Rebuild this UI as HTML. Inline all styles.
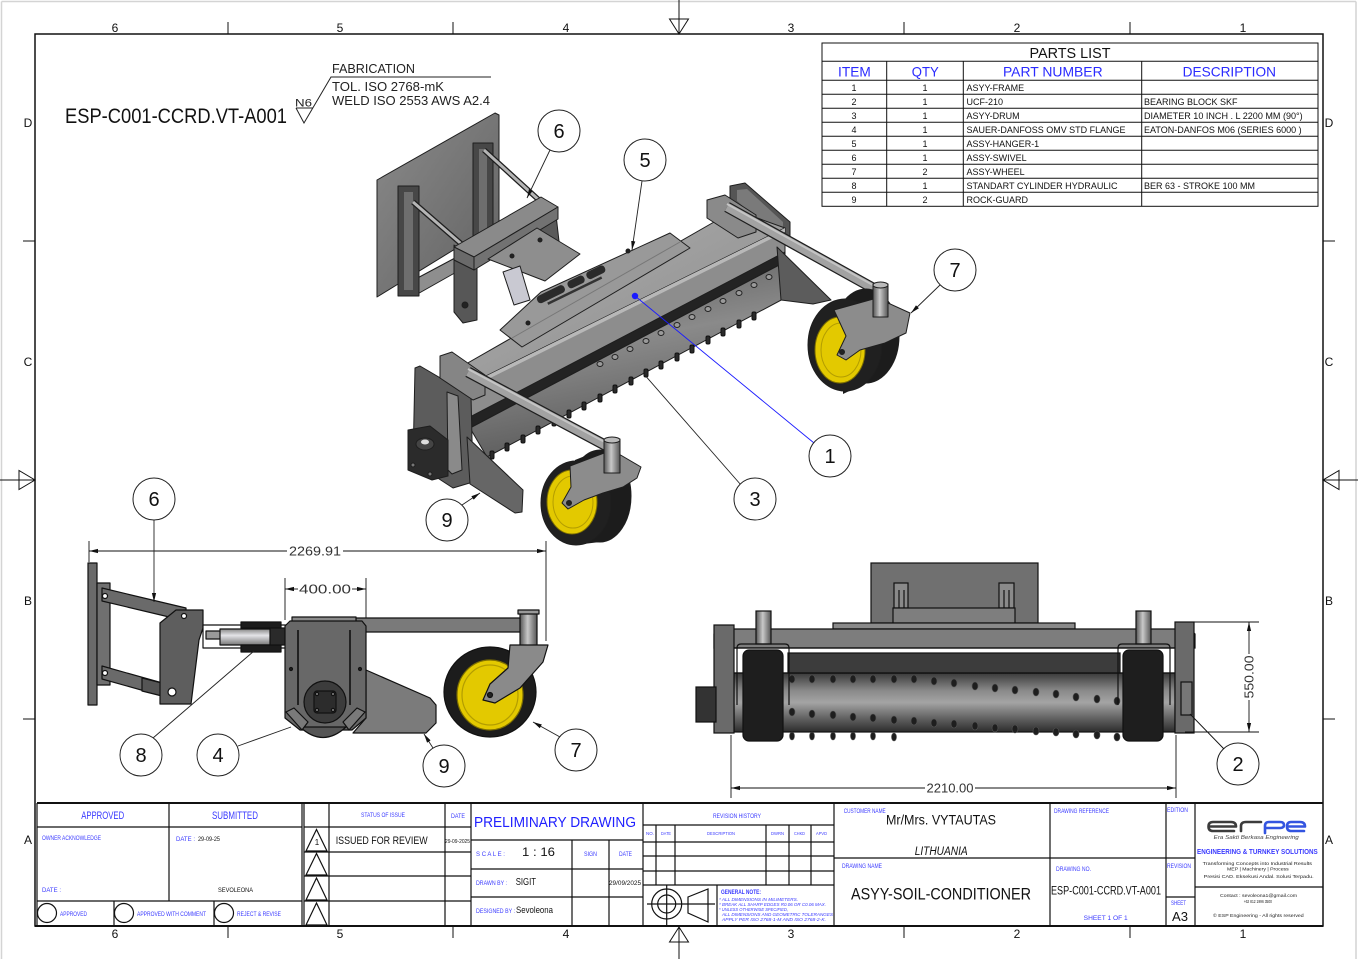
<!DOCTYPE html>
<html><head><meta charset="utf-8"><style>
html,body{margin:0;padding:0;background:#fff;}
svg{display:block;}
text{font-family:"Liberation Sans",Arial,sans-serif;}
</style></head><body>
<svg width="1359" height="959" viewBox="0 0 1359 959" xmlns="http://www.w3.org/2000/svg">
<defs>
<marker id="ar" markerWidth="10" markerHeight="6" refX="9" refY="3" orient="auto-start-reverse" markerUnits="userSpaceOnUse"><path d="M0,0.9 L9,3 L0,5.1z" fill="#111"/></marker>
<linearGradient id="drumF" x1="0" y1="0" x2="0" y2="1"><stop offset="0" stop-color="#3a3a3a"/><stop offset="0.3" stop-color="#8a8a8a"/><stop offset="0.5" stop-color="#a4a4a4"/><stop offset="0.75" stop-color="#666"/><stop offset="1" stop-color="#2c2c2c"/></linearGradient>
<linearGradient id="cyl" x1="0" y1="0" x2="0" y2="1"><stop offset="0" stop-color="#888"/><stop offset="0.4" stop-color="#e4e4e8"/><stop offset="1" stop-color="#777"/></linearGradient>
<linearGradient id="stemG" x1="0" y1="0" x2="1" y2="0"><stop offset="0" stop-color="#555"/><stop offset="0.45" stop-color="#c8c8c8"/><stop offset="1" stop-color="#555"/></linearGradient>
<linearGradient id="topG" x1="0" y1="0" x2="1" y2="1"><stop offset="0" stop-color="#b0b0b0"/><stop offset="1" stop-color="#8a8a8a"/></linearGradient>
<linearGradient id="drumM" x1="0" y1="0" x2="0.3" y2="1"><stop offset="0" stop-color="#555"/><stop offset="0.5" stop-color="#8a8a8a"/><stop offset="1" stop-color="#5a5a5a"/></linearGradient>
<linearGradient id="plateG" x1="0" y1="0" x2="1" y2="1"><stop offset="0" stop-color="#8a8a8a"/><stop offset="1" stop-color="#626262"/></linearGradient>
</defs>

<!-- outer sheet border -->
<line x1="1.5" y1="1.5" x2="1356" y2="1.5" stroke="#d4d4d4" stroke-width="1.5"/>
<line x1="1.5" y1="1.5" x2="1.5" y2="959" stroke="#d4d4d4" stroke-width="1.5"/>
<line x1="1356" y1="1.5" x2="1356" y2="959" stroke="#d4d4d4" stroke-width="1.5"/>

<!-- main frame -->
<rect x="35" y="34" width="1288" height="892" fill="none" stroke="#111" stroke-width="1.5"/>
<g stroke="#111" stroke-width="1">
<line x1="228" y1="22" x2="228" y2="34"/><line x1="453" y1="22" x2="453" y2="34"/><line x1="904" y1="22" x2="904" y2="34"/><line x1="1130" y1="22" x2="1130" y2="34"/>
<line x1="228" y1="926" x2="228" y2="938"/><line x1="453" y1="926" x2="453" y2="938"/><line x1="904" y1="926" x2="904" y2="938"/><line x1="1130" y1="926" x2="1130" y2="938"/>
<line x1="23" y1="241" x2="35" y2="241"/><line x1="23" y1="719" x2="35" y2="719"/>
<line x1="1323" y1="241" x2="1335" y2="241"/><line x1="1323" y1="719" x2="1335" y2="719"/>
<line x1="679" y1="0" x2="679" y2="34"/><polygon points="669.5,19 688.5,19 679,34" fill="none"/>
<line x1="679" y1="926" x2="679" y2="959"/><polygon points="669.5,942 688.5,942 679,927" fill="none"/>
<line x1="0" y1="480" x2="35" y2="480"/><polygon points="19,470.5 19,489.5 35,480" fill="none"/>
<line x1="1323" y1="480" x2="1358" y2="480"/><polygon points="1339,470.5 1339,489.5 1323,480" fill="none"/>
</g>
<g font-size="12" fill="#111" text-anchor="middle">
<text x="115" y="32">6</text><text x="340" y="32">5</text><text x="566" y="32">4</text><text x="791" y="32">3</text><text x="1017" y="32">2</text><text x="1243" y="32">1</text>
<text x="115" y="938">6</text><text x="340" y="938">5</text><text x="566" y="938">4</text><text x="791" y="938">3</text><text x="1017" y="938">2</text><text x="1243" y="938">1</text>
<text x="28" y="127">D</text><text x="28" y="366">C</text><text x="28" y="605">B</text><text x="28" y="844">A</text>
<text x="1329" y="127">D</text><text x="1329" y="366">C</text><text x="1329" y="605">B</text><text x="1329" y="844">A</text>
</g>

<!-- header notes -->
<text x="65" y="123" font-size="21" fill="#111" textLength="222" lengthAdjust="spacingAndGlyphs">ESP-C001-CCRD.VT-A001</text>
<text x="295" y="106.5" font-size="11" fill="#222" textLength="17" lengthAdjust="spacingAndGlyphs">N6</text>
<polyline points="296,108 313,108" stroke="#222" fill="none"/>
<polyline points="296,108 304,123 331,77 491,77" stroke="#222" fill="none"/>
<text x="332" y="73" font-size="12.5" fill="#222" textLength="83" lengthAdjust="spacingAndGlyphs">FABRICATION</text>
<text x="332" y="91" font-size="12.5" fill="#222" textLength="112" lengthAdjust="spacingAndGlyphs">TOL. ISO 2768-mK</text>
<text x="332" y="105" font-size="12.5" fill="#222" textLength="158" lengthAdjust="spacingAndGlyphs">WELD ISO 2553 AWS A2.4</text>

<!-- PARTS LIST -->
<g stroke="#111" stroke-width="1" fill="none">
<rect x="822" y="43" width="496" height="163.3"/>
<line x1="822" y1="61.3" x2="1318" y2="61.3"/>
<line x1="822" y1="80.3" x2="1318" y2="80.3"/>
<line x1="822" y1="94.3" x2="1318" y2="94.3"/><line x1="822" y1="108.3" x2="1318" y2="108.3"/><line x1="822" y1="122.3" x2="1318" y2="122.3"/><line x1="822" y1="136.3" x2="1318" y2="136.3"/><line x1="822" y1="150.3" x2="1318" y2="150.3"/><line x1="822" y1="164.3" x2="1318" y2="164.3"/><line x1="822" y1="178.3" x2="1318" y2="178.3"/><line x1="822" y1="192.3" x2="1318" y2="192.3"/>
<line x1="886.7" y1="61.3" x2="886.7" y2="206.3"/><line x1="963.3" y1="61.3" x2="963.3" y2="206.3"/><line x1="1141.7" y1="61.3" x2="1141.7" y2="206.3"/>
</g>
<text x="1070" y="58" font-size="14.5" fill="#111" text-anchor="middle" textLength="81" lengthAdjust="spacingAndGlyphs">PARTS LIST</text>
<g font-size="14" fill="#2a2aff" text-anchor="middle">
<text x="854.4" y="76.5" textLength="32.7" lengthAdjust="spacingAndGlyphs">ITEM</text>
<text x="925.3" y="76.5" textLength="27" lengthAdjust="spacingAndGlyphs">QTY</text>
<text x="1052.8" y="76.5" textLength="99.7" lengthAdjust="spacingAndGlyphs">PART NUMBER</text>
<text x="1229.3" y="76.5" textLength="93.3" lengthAdjust="spacingAndGlyphs">DESCRIPTION</text>
</g>
<g font-size="9" fill="#111">
<g text-anchor="middle">
<text x="854" y="91">1</text><text x="925" y="91">1</text>
<text x="854" y="105">2</text><text x="925" y="105">1</text>
<text x="854" y="119">3</text><text x="925" y="119">1</text>
<text x="854" y="133">4</text><text x="925" y="133">1</text>
<text x="854" y="147">5</text><text x="925" y="147">1</text>
<text x="854" y="161">6</text><text x="925" y="161">1</text>
<text x="854" y="175">7</text><text x="925" y="175">2</text>
<text x="854" y="189">8</text><text x="925" y="189">1</text>
<text x="854" y="203">9</text><text x="925" y="203">2</text>
</g>
<text x="966.5" y="91">ASYY-FRAME</text>
<text x="966.5" y="105">UCF-210</text>
<text x="966.5" y="119">ASYY-DRUM</text>
<text x="966.5" y="133" textLength="159" lengthAdjust="spacingAndGlyphs">SAUER-DANFOSS OMV STD FLANGE</text>
<text x="966.5" y="147">ASSY-HANGER-1</text>
<text x="966.5" y="161">ASSY-SWIVEL</text>
<text x="966.5" y="175">ASSY-WHEEL</text>
<text x="966.5" y="189" textLength="151" lengthAdjust="spacingAndGlyphs">STANDART CYLINDER HYDRAULIC</text>
<text x="966.5" y="203">ROCK-GUARD</text>
<text x="1144" y="105">BEARING BLOCK SKF</text>
<text x="1144" y="119" textLength="158.7" lengthAdjust="spacingAndGlyphs">DIAMETER 10 INCH . L 2200 MM (90°)</text>
<text x="1144" y="133" textLength="157.7" lengthAdjust="spacingAndGlyphs">EATON-DANFOS M06 (SERIES 6000 )</text>
<text x="1144" y="189" textLength="111" lengthAdjust="spacingAndGlyphs">BER 63 - STROKE 100 MM</text>
</g>

<!-- ================= MAIN ISOMETRIC VIEW ================= -->
<g stroke="#1e1e1e" stroke-width="1" stroke-linejoin="round">
<!-- hitch plate -->
<polygon points="377,180 495,113 499,115 499,222 377,297" fill="url(#plateG)"/>
<!-- lower frame bar -->
<polygon points="410,282 455,258 460,270 414,296" fill="#8e8e8e"/>
<!-- uprights -->
<rect x="398" y="186" width="21" height="110" fill="#474747"/>
<rect x="404" y="192" width="9" height="98" fill="#6e6e6e" stroke="none"/>
<rect x="473" y="143" width="20" height="100" fill="#474747"/>
<rect x="479" y="149" width="8" height="88" fill="#6e6e6e" stroke="none"/>
<!-- rods -->
<line x1="413" y1="202" x2="466" y2="248" stroke="#1e1e1e" stroke-width="5.5"/>
<line x1="413" y1="202" x2="466" y2="248" stroke="#b5b5b5" stroke-width="3"/>
<line x1="484" y1="150" x2="540" y2="201" stroke="#1e1e1e" stroke-width="5.5"/>
<line x1="484" y1="150" x2="540" y2="201" stroke="#b5b5b5" stroke-width="3"/>
<!-- swivel frame -->
<polygon points="454,245 477,258 477,320 463,323 454,312" fill="#575757"/>
<circle cx="465" cy="305" r="3" fill="#222"/>
<polygon points="530,215 555,206 560,250 535,262" fill="#5a5a5a"/>
<polygon points="454,247 541,197 558,207 474,257" fill="#8a8a8a"/>
<polygon points="454,247 474,257 474,270 454,260" fill="#6a6a6a"/>
<polygon points="474,257 558,207 558,219 474,270" fill="#727272"/>
<!-- hanger plate -->
<polygon points="488,259 537,228 580,254 545,281" fill="#8e8e8e"/>
<circle cx="512" cy="256" r="2" fill="#222"/><circle cx="540" cy="240" r="2" fill="#222"/>
<!-- cylinder -->
<polygon points="503,272 520,266 530,300 514,305" fill="#c9c9d2"/>
<!-- right end plate (behind) -->
<polygon points="730,186 745,183 790,222 790,240 776,240 730,202" fill="#555"/>
<polygon points="737,190 747,189 783,222 783,234 775,234 737,201" fill="#7a7a7a" stroke="none"/>
<!-- beam -->
<polygon points="452,372 735,210 785,228 468,385" fill="url(#topG)"/>
<polygon points="468,385 785,228 785,254 468,420" fill="#8d8d8d"/>
<polygon points="468,385 785,228 785,232 468,389" fill="#b8b8b8" stroke="none"/>
<polygon points="468,418 785,252 785,262 470,428" fill="#232323"/>
<polygon points="470,428 785,262 785,298 487,457" fill="url(#drumM)"/>
<!-- upper bumps -->
<g fill="#9a9a9a" stroke="#222">
<ellipse cx="600" cy="364" rx="3" ry="2.5"/><ellipse cx="615" cy="357" rx="3" ry="2.5"/><ellipse cx="630" cy="349" rx="3" ry="2.5"/><ellipse cx="646" cy="341" rx="3" ry="2.5"/><ellipse cx="661" cy="333" rx="3" ry="2.5"/><ellipse cx="677" cy="325" rx="3" ry="2.5"/><ellipse cx="692" cy="317" rx="3" ry="2.5"/><ellipse cx="708" cy="309" rx="3" ry="2.5"/><ellipse cx="723" cy="301" rx="3" ry="2.5"/><ellipse cx="739" cy="293" rx="3" ry="2.5"/><ellipse cx="754" cy="285" rx="3" ry="2.5"/><ellipse cx="769" cy="277" rx="3" ry="2.5"/>
</g>
<!-- bottom teeth -->
<g fill="#2a2a2a" stroke="#111">
<rect x="490" y="451" width="4" height="8" rx="1.5"/><rect x="505" y="443" width="4" height="8" rx="1.5"/><rect x="521" y="435" width="4" height="8" rx="1.5"/><rect x="536" y="426" width="4" height="8" rx="1.5"/><rect x="552" y="418" width="4" height="8" rx="1.5"/><rect x="567" y="410" width="4" height="8" rx="1.5"/><rect x="582" y="402" width="4" height="8" rx="1.5"/><rect x="598" y="394" width="4" height="8" rx="1.5"/><rect x="613" y="385" width="4" height="8" rx="1.5"/><rect x="629" y="377" width="4" height="8" rx="1.5"/><rect x="644" y="369" width="4" height="8" rx="1.5"/><rect x="659" y="361" width="4" height="8" rx="1.5"/><rect x="675" y="353" width="4" height="8" rx="1.5"/><rect x="690" y="345" width="4" height="8" rx="1.5"/><rect x="706" y="336" width="4" height="8" rx="1.5"/><rect x="721" y="328" width="4" height="8" rx="1.5"/><rect x="737" y="320" width="4" height="8" rx="1.5"/><rect x="752" y="312" width="4" height="8" rx="1.5"/>
</g>
<!-- big plate on beam -->
<polygon points="500,330 541,292 670,233 690,248 522,347" fill="#999"/>
<line x1="512" y1="338" x2="680" y2="242" stroke="#777"/>
<g transform="translate(572,285) rotate(-26)">
<rect x="-38" y="-5" width="30" height="8" rx="3.5" fill="#2a2a2a" stroke="none"/>
<rect x="-4" y="-5" width="18" height="8" rx="3.5" fill="#2a2a2a" stroke="none"/>
<rect x="17" y="-5" width="20" height="8" rx="3.5" fill="#2a2a2a" stroke="none"/>
<rect x="-30" y="5" width="60" height="2.5" fill="#333" stroke="none"/>
</g>
<circle cx="528" cy="323" r="2" fill="#222"/><circle cx="628" cy="251" r="2" fill="#222"/>
<!-- right arm mount -->
<polygon points="707,200 725,195 756,215 756,232 738,238 707,218" fill="#8a8a8a"/>
<!-- right rod -->
<line x1="727" y1="207" x2="880" y2="292" stroke="#1e1e1e" stroke-width="11"/>
<line x1="727" y1="207" x2="880" y2="292" stroke="#a2a2a2" stroke-width="8.5"/>
<line x1="727" y1="204" x2="880" y2="289" stroke="#c4c4c4" stroke-width="2"/>
<!-- right fin -->
<polygon points="777,247 831,300 813,304 781,300" fill="#5c5c5c"/>
<!-- right wheel -->
<ellipse cx="866" cy="336" rx="33" ry="47" fill="#1c1c1c"/>
<polygon points="843,301 866,289 866,383 843,394" fill="#1c1c1c" stroke="none"/>
<ellipse cx="845" cy="345" rx="37" ry="46" fill="#202020"/>
<ellipse cx="840" cy="350" rx="25" ry="33" fill="#e3c900" stroke="#7d6e00"/>
<ellipse cx="841" cy="350" rx="20" ry="27" fill="none" stroke="#b39d00"/>
<polygon points="834,310 877,298 910,313 906,333 885,343 860,350 846,360 837,355 846,336" fill="#8c8c8c"/>
<circle cx="842" cy="352" r="2.5" fill="#222"/>
<rect x="873" y="284" width="15" height="33" fill="url(#stemG)"/>
<ellipse cx="880.5" cy="285" rx="7.5" ry="3" fill="#bbb"/>
<!-- left end plate -->
<polygon points="415,368 420,366 471,396 473,482 453,488 413,462" fill="#5c5c5c"/>
<polygon points="447,392 458,396 462,470 452,474 448,470" fill="#8a8a8a"/>
<!-- left fin -->
<polygon points="467,437 523,490 522,512 515,513 470,484" fill="#666"/>
<!-- motor -->
<polygon points="408,430 430,426 448,440 448,476 432,480 408,470" fill="#2b2b2b"/>
<ellipse cx="425" cy="444" rx="9" ry="6" fill="#444"/>
<ellipse cx="425" cy="442" rx="4" ry="2.5" fill="#ddd" stroke="none"/>
<circle cx="413" cy="465" r="2" fill="#777"/><circle cx="430" cy="474" r="2" fill="#777"/>
<!-- left arm mount -->
<polygon points="440,356 452,352 485,375 485,395 473,400 440,378" fill="#858585"/>
<!-- left rod -->
<line x1="468" y1="372" x2="614" y2="450" stroke="#1e1e1e" stroke-width="11"/>
<line x1="468" y1="372" x2="614" y2="450" stroke="#a2a2a2" stroke-width="8.5"/>
<line x1="468" y1="369" x2="614" y2="447" stroke="#c4c4c4" stroke-width="2"/>
<!-- left wheel -->
<ellipse cx="600" cy="496" rx="31" ry="46" fill="#1c1c1c"/>
<polygon points="575,460 600,450 600,542 575,545" fill="#1c1c1c" stroke="none"/>
<ellipse cx="576" cy="503" rx="35" ry="42" fill="#202020"/>
<ellipse cx="572" cy="502" rx="25" ry="32" fill="#e3c900" stroke="#7d6e00"/>
<ellipse cx="573" cy="502" rx="20" ry="26" fill="none" stroke="#b39d00"/>
<polygon points="570,466 612,450 641,467 637,478 623,487 603,493 584,500 568,509 562,503 571,487" fill="#8c8c8c"/>
<circle cx="569" cy="503" r="2.5" fill="#222"/>
<rect x="604" y="439" width="16" height="34" fill="url(#stemG)"/>
<ellipse cx="612" cy="440" rx="8" ry="3" fill="#bbb"/>
</g>

<!-- main leaders & balloons -->
<g stroke="#222" stroke-width="0.9" fill="none">
<line x1="550" y1="150" x2="527" y2="198" marker-end="url(#ar)"/>
<line x1="642" y1="181" x2="632" y2="250" marker-end="url(#ar)"/>
<line x1="940" y1="285" x2="911" y2="313" marker-end="url(#ar)"/>
<line x1="741" y1="485" x2="643" y2="373"/>
<line x1="462" y1="505" x2="480" y2="493" marker-end="url(#ar)"/>
</g>
<line x1="814" y1="443" x2="635" y2="296" stroke="#1a1aff" stroke-width="0.9"/>
<circle cx="635" cy="296" r="3.2" fill="#1a1aff"/>
<g fill="#fff" stroke="#222" stroke-width="1">
<circle cx="559" cy="131" r="21"/><circle cx="645" cy="160" r="21"/><circle cx="955" cy="270" r="21"/>
<circle cx="830" cy="456" r="21"/><circle cx="755" cy="499" r="21"/><circle cx="447" cy="520" r="21"/>
<circle cx="154" cy="499" r="21"/><circle cx="141" cy="755" r="21"/><circle cx="218" cy="755" r="21"/>
<circle cx="444" cy="766" r="21"/><circle cx="576" cy="750" r="21"/><circle cx="1238" cy="764" r="21"/>
</g>
<g font-size="20" fill="#111" text-anchor="middle">
<text x="559" y="138">6</text><text x="645" y="167">5</text><text x="955" y="277">7</text>
<text x="830" y="463">1</text><text x="755" y="506">3</text><text x="447" y="527">9</text>
<text x="154" y="506">6</text><text x="141" y="762">8</text><text x="218" y="762">4</text>
<text x="444" y="773">9</text><text x="576" y="757">7</text><text x="1238" y="771">2</text>
</g>

<!-- ================= SIDE VIEW ================= -->
<g stroke="#111" stroke-width="0.9" fill="none">
<line x1="89" y1="541" x2="89" y2="562"/>
<line x1="546" y1="541" x2="546" y2="641"/>
<line x1="89" y1="551" x2="287" y2="551" marker-start="url(#ar)"/>
<line x1="343" y1="551" x2="546" y2="551" marker-end="url(#ar)"/>
<line x1="285" y1="578" x2="285" y2="620"/>
<line x1="366" y1="578" x2="366" y2="620"/>
<line x1="285" y1="589" x2="298" y2="589" marker-start="url(#ar)"/>
<line x1="352" y1="589" x2="366" y2="589" marker-end="url(#ar)"/>
</g>
<text x="315" y="555.5" font-size="13" fill="#333" text-anchor="middle" textLength="52" lengthAdjust="spacingAndGlyphs">2269.91</text>
<text x="325" y="593.5" font-size="13" fill="#333" text-anchor="middle" textLength="52" lengthAdjust="spacingAndGlyphs">400.00</text>

<g stroke="#111" stroke-width="1.2" stroke-linejoin="round">
<rect x="88" y="563" width="9" height="142" fill="#6a6a6a"/>
<rect x="97" y="583" width="13" height="102" fill="#707070"/>
<polygon points="102,588 186,608 186,621 102,601" fill="#6a6a6a"/>
<polygon points="102,666 166,684 166,697 102,679" fill="#6a6a6a"/>
<polygon points="142,678 166,684 166,697 142,691" fill="#555"/>
<polygon points="160,623 176,610 203,610 203,628 199,640 191,704 160,704" fill="#5e5e5e"/>
<circle cx="105" cy="596" r="2.5" fill="#fff"/><circle cx="105" cy="673" r="2.5" fill="#fff"/>
<circle cx="184" cy="616" r="2.5" fill="#fff"/><circle cx="172" cy="692" r="4" fill="#fff"/>
<rect x="203" y="625" width="84" height="23" fill="#fff"/>
<rect x="206" y="631" width="16" height="8" fill="#999"/>
<rect x="220" y="629" width="52" height="16" fill="url(#cyl)"/>
<rect x="241" y="622" width="40" height="6" fill="#1c1c1c"/>
<rect x="241" y="645" width="40" height="7" fill="#1c1c1c"/>
<rect x="270" y="628" width="16" height="17" fill="#2a2a2a"/>
<rect x="356" y="618" width="169" height="14" fill="#7a7a7a"/>
<polygon points="366,670 430,698 436,705 436,723 426,733 353,733 366,718" fill="#7b7b7b"/>
<rect x="292" y="617" width="64" height="6" fill="#8a8a8a"/>
<polygon points="285,626 290,621 362,621 366,626 366,718 352,730 300,730 285,718" fill="#686868"/>
<line x1="298" y1="630" x2="298" y2="705" stroke="#222" stroke-width="2"/>
<line x1="350" y1="630" x2="350" y2="705" stroke="#222" stroke-width="2"/>
<circle cx="291" cy="669" r="1.5" fill="#222"/><circle cx="360" cy="669" r="1.5" fill="#222"/>
<path d="M300,727 Q323,748 346,727 Z" fill="#555"/>
<polygon points="286,712 294,708 308,722 302,730" fill="#7a7a7a"/>
<polygon points="365,712 357,708 343,722 349,730" fill="#7a7a7a"/>
<circle cx="325" cy="702" r="21" fill="#3c3c3c"/>
<rect x="314" y="691" width="22" height="22" rx="3" fill="#2c2c2c"/>
<circle cx="317" cy="694" r="1.6" fill="#888"/><circle cx="333" cy="694" r="1.6" fill="#888"/><circle cx="317" cy="710" r="1.6" fill="#888"/><circle cx="333" cy="710" r="1.6" fill="#888"/>
<rect x="520" y="612" width="17" height="34" fill="url(#stemG)"/>
<rect x="518" y="610" width="21" height="4" fill="#999"/>
<ellipse cx="490" cy="692" rx="46" ry="45" fill="#1c1c1c"/>
<ellipse cx="490" cy="695" rx="33" ry="35" fill="#e3c900" stroke="#7d6e00"/>
<ellipse cx="490" cy="695" rx="28" ry="30" fill="none" stroke="#b39d00"/>
<polygon points="510,645 548,645 543,662 520,688 495,703 483,700 490,684 508,668" fill="#8a8a8a"/>
<circle cx="490" cy="695" r="2.5" fill="#222"/>
</g>
<g stroke="#222" stroke-width="0.9" fill="none">
<line x1="154" y1="520" x2="154" y2="602" marker-end="url(#ar)"/>
<line x1="153" y1="738" x2="254" y2="651"/>
<line x1="238" y1="746" x2="291" y2="727"/>
<line x1="433" y1="748" x2="424" y2="734" marker-end="url(#ar)"/>
<line x1="560" y1="737" x2="533" y2="722" marker-end="url(#ar)"/>
</g>

<!-- ================= FRONT VIEW ================= -->
<g stroke="#111" stroke-width="1.2">
<rect x="871" y="563" width="167" height="60" fill="#707070"/>
<rect x="894" y="583" width="14" height="25" fill="#8a8a8a"/>
<line x1="899" y1="590" x2="899" y2="608"/><line x1="904" y1="590" x2="904" y2="608"/>
<rect x="999" y="583" width="15" height="25" fill="#8a8a8a"/>
<line x1="1004" y1="590" x2="1004" y2="608"/><line x1="1009" y1="590" x2="1009" y2="608"/>
<rect x="893" y="608" width="122" height="15" fill="#7e7e7e"/>
<rect x="833" y="623" width="242" height="6" fill="#8a8a8a"/>
<polygon points="718,629 1190,629 1195,634 1195,648 714,648 714,634" fill="#7d7d7d"/>
<rect x="756" y="611" width="15" height="33" fill="url(#stemG)"/>
<rect x="1136" y="611" width="15" height="33" fill="url(#stemG)"/>
<rect x="734" y="673" width="441" height="59" fill="url(#drumF)"/>
<rect x="788" y="653" width="332" height="20" fill="#3c3c3c"/>
<line x1="734" y1="648" x2="1175" y2="648"/>
<line x1="734" y1="673" x2="1175" y2="673"/>
<rect x="714" y="625" width="20" height="108" fill="#6a6a6a"/>
<rect x="1175" y="622" width="19" height="111" fill="#6a6a6a"/>
<rect x="696" y="687" width="20" height="35" fill="#333"/>
<rect x="1181" y="682" width="11" height="33" fill="#777"/>
</g>
<g fill="#1e1e1e" stroke="#555" stroke-width="0.6">
<ellipse cx="792" cy="679" rx="3" ry="4"/><ellipse cx="812" cy="679" rx="3" ry="4"/><ellipse cx="833" cy="679" rx="3" ry="4"/><ellipse cx="853" cy="679" rx="3" ry="4"/><ellipse cx="873" cy="679" rx="3" ry="4"/><ellipse cx="894" cy="679" rx="3" ry="4"/><ellipse cx="914" cy="679" rx="3" ry="4"/><ellipse cx="934" cy="681" rx="3" ry="4"/><ellipse cx="954" cy="683" rx="3" ry="4"/><ellipse cx="975" cy="686" rx="3" ry="4"/><ellipse cx="995" cy="688" rx="3" ry="4"/><ellipse cx="1015" cy="690" rx="3" ry="4"/><ellipse cx="1036" cy="692" rx="3" ry="4"/><ellipse cx="1056" cy="694" rx="3" ry="4"/><ellipse cx="1076" cy="697" rx="3" ry="4"/><ellipse cx="1097" cy="699" rx="3" ry="4"/><ellipse cx="1117" cy="701" rx="3" ry="4"/>
<ellipse cx="792" cy="712" rx="3" ry="4"/><ellipse cx="812" cy="714" rx="3" ry="4"/><ellipse cx="833" cy="715" rx="3" ry="4"/><ellipse cx="853" cy="717" rx="3" ry="4"/><ellipse cx="873" cy="718" rx="3" ry="4"/><ellipse cx="894" cy="720" rx="3" ry="4"/><ellipse cx="914" cy="721" rx="3" ry="4"/><ellipse cx="934" cy="723" rx="3" ry="4"/><ellipse cx="954" cy="724" rx="3" ry="4"/><ellipse cx="975" cy="726" rx="3" ry="4"/><ellipse cx="995" cy="728" rx="3" ry="4"/><ellipse cx="1015" cy="729" rx="3" ry="4"/><ellipse cx="1036" cy="731" rx="3" ry="4"/><ellipse cx="1056" cy="732" rx="3" ry="4"/><ellipse cx="1076" cy="734" rx="3" ry="4"/><ellipse cx="1097" cy="735" rx="3" ry="4"/><ellipse cx="1117" cy="737" rx="3" ry="4"/>
<ellipse cx="792" cy="736" rx="2.5" ry="4"/><ellipse cx="812" cy="736" rx="2.5" ry="4"/><ellipse cx="833" cy="736" rx="2.5" ry="4"/><ellipse cx="853" cy="736" rx="2.5" ry="4"/><ellipse cx="873" cy="736" rx="2.5" ry="4"/><ellipse cx="894" cy="737" rx="2.5" ry="4"/>
</g>
<g stroke="#111" stroke-width="1.2">
<path d="M737,705 V648 Q737,644 741,644 H785 Q789,644 789,648 V705" fill="none"/>
<path d="M1118,705 V648 Q1118,644 1122,644 H1166 Q1170,644 1170,648 V705" fill="none"/>
<rect x="743" y="650" width="40" height="91" rx="6" fill="#1e1e1e"/>
<rect x="1123" y="650" width="40" height="91" rx="6" fill="#1e1e1e"/>
</g>
<g stroke="#111" stroke-width="0.9" fill="none">
<line x1="1185" y1="622" x2="1259" y2="622"/>
<line x1="1185" y1="732" x2="1259" y2="732"/>
<line x1="1249" y1="622" x2="1249" y2="654" marker-start="url(#ar)"/>
<line x1="1249" y1="700" x2="1249" y2="732" marker-end="url(#ar)"/>
<line x1="731" y1="735" x2="731" y2="798"/>
<line x1="1176" y1="735" x2="1176" y2="798"/>
<line x1="731" y1="788" x2="925" y2="788" marker-start="url(#ar)"/>
<line x1="975" y1="788" x2="1176" y2="788" marker-end="url(#ar)"/>
<line x1="1190" y1="714" x2="1224" y2="749"/>
</g>
<text x="950" y="792.5" font-size="13" fill="#333" text-anchor="middle" textLength="47" lengthAdjust="spacingAndGlyphs">2210.00</text>
<text transform="translate(1253.5,677) rotate(-90)" font-size="13" fill="#333" text-anchor="middle" textLength="43" lengthAdjust="spacingAndGlyphs">550.00</text>

<!-- ================= TITLE BLOCK ================= -->
<g stroke="#111" fill="none">
<line x1="37" y1="803" x2="1323" y2="803" stroke-width="2"/>
<line x1="35" y1="926" x2="1323" y2="926" stroke-width="2"/>
<g stroke-width="1.2">
<line x1="37" y1="803" x2="37" y2="926"/>
<line x1="302" y1="803" x2="302" y2="926"/>
<line x1="37" y1="827" x2="302" y2="827"/>
<line x1="169" y1="803" x2="169" y2="901"/>
<line x1="37" y1="901" x2="302" y2="901"/>
<line x1="114" y1="901" x2="114" y2="926"/><line x1="214" y1="901" x2="214" y2="926"/>
<circle cx="47" cy="913" r="9.5"/><circle cx="124" cy="913" r="9.5"/><circle cx="224" cy="913" r="9.5"/>
<line x1="304" y1="803" x2="304" y2="926"/>
<line x1="329" y1="803" x2="329" y2="926"/>
<line x1="445" y1="803" x2="445" y2="926"/>
<line x1="304" y1="827" x2="471" y2="827"/><line x1="304" y1="852" x2="471" y2="852"/><line x1="304" y1="876" x2="471" y2="876"/><line x1="304" y1="901" x2="471" y2="901"/>
<polygon points="316.5,829.5 306,851 327,851"/><polygon points="316.5,853.5 306,875 327,875"/><polygon points="316.5,878 306,900 327,900"/><polygon points="316.5,903 306,925 327,925"/>
<line x1="471" y1="803" x2="471" y2="926"/>
<line x1="471" y1="840" x2="643" y2="840"/><line x1="471" y1="869" x2="643" y2="869"/><line x1="471" y1="897" x2="643" y2="897"/>
<line x1="572" y1="840" x2="572" y2="926"/><line x1="609" y1="840" x2="609" y2="926"/>
<line x1="643" y1="803" x2="643" y2="926"/>
<line x1="643" y1="825" x2="834" y2="825"/><line x1="643" y1="842" x2="834" y2="842"/><line x1="643" y1="856" x2="834" y2="856"/><line x1="643" y1="871" x2="834" y2="871"/><line x1="643" y1="885" x2="834" y2="885"/>
<line x1="656" y1="825" x2="656" y2="885"/><line x1="675" y1="825" x2="675" y2="885"/><line x1="766" y1="825" x2="766" y2="885"/><line x1="789" y1="825" x2="789" y2="885"/><line x1="811" y1="825" x2="811" y2="885"/>
<line x1="717" y1="885" x2="717" y2="926"/>
<circle cx="666.7" cy="904" r="15"/><circle cx="666.7" cy="904" r="9"/>
<line x1="647" y1="904" x2="715" y2="904"/><line x1="666.7" y1="885" x2="666.7" y2="926"/>
<polygon points="688,897 708,889 708,922 688,913"/>
<line x1="834" y1="803" x2="834" y2="926"/>
<line x1="834" y1="858" x2="1195" y2="858"/>
<line x1="1050" y1="803" x2="1050" y2="926"/>
<line x1="1166" y1="803" x2="1166" y2="926"/>
<line x1="1195" y1="803" x2="1195" y2="926"/>
<line x1="1166" y1="897" x2="1195" y2="897"/>
<line x1="1195" y1="887" x2="1323" y2="887"/>
</g>
</g>

<g fill="#3a3aff">
<text x="102.7" y="819" font-size="11" text-anchor="middle" textLength="43" lengthAdjust="spacingAndGlyphs">APPROVED</text>
<text x="235" y="819" font-size="11" text-anchor="middle" textLength="46" lengthAdjust="spacingAndGlyphs">SUBMITTED</text>
<text x="42" y="840" font-size="6.5" textLength="59" lengthAdjust="spacingAndGlyphs">OWNER ACKNOWLEDGE</text>
<text x="176" y="841" font-size="6.5" textLength="19" lengthAdjust="spacingAndGlyphs">DATE :</text>
<text x="42" y="892" font-size="6.5" textLength="19" lengthAdjust="spacingAndGlyphs">DATE :</text>
<text x="60" y="916" font-size="6" textLength="27" lengthAdjust="spacingAndGlyphs">APPROVED</text>
<text x="137" y="916" font-size="6" textLength="69" lengthAdjust="spacingAndGlyphs">APPROVED WITH COMMENT</text>
<text x="237" y="916" font-size="6" textLength="44" lengthAdjust="spacingAndGlyphs">REJECT &amp; REVISE</text>
<text x="361" y="817" font-size="6" textLength="44" lengthAdjust="spacingAndGlyphs">STATUS OF ISSUE</text>
<text x="451" y="818" font-size="6" textLength="14" lengthAdjust="spacingAndGlyphs">DATE</text>
<text x="474" y="827" font-size="15" fill="#2020ff" textLength="162" lengthAdjust="spacingAndGlyphs">PRELIMINARY DRAWING</text>
<text x="476" y="856" font-size="6.5" textLength="29" lengthAdjust="spacingAndGlyphs">S C A L E :</text>
<text x="584" y="856" font-size="6" textLength="13" lengthAdjust="spacingAndGlyphs">SIGN</text>
<text x="619" y="856" font-size="6" textLength="13" lengthAdjust="spacingAndGlyphs">DATE</text>
<text x="476" y="885" font-size="6.5" textLength="31" lengthAdjust="spacingAndGlyphs">DRAWN BY :</text>
<text x="476" y="913" font-size="6.5" textLength="39" lengthAdjust="spacingAndGlyphs">DESIGNED BY :</text>
<text x="713" y="818" font-size="6" textLength="48" lengthAdjust="spacingAndGlyphs">REVISION HISTORY</text>
<g font-size="4.5">
<text x="646" y="835" textLength="8" lengthAdjust="spacingAndGlyphs">NO.</text>
<text x="661" y="835" textLength="10" lengthAdjust="spacingAndGlyphs">DATE</text>
<text x="707" y="835" textLength="28" lengthAdjust="spacingAndGlyphs">DESCRIPTION</text>
<text x="771" y="835" textLength="13" lengthAdjust="spacingAndGlyphs">DWRN</text>
<text x="794" y="835" textLength="11" lengthAdjust="spacingAndGlyphs">CHKD</text>
<text x="816" y="835" textLength="11" lengthAdjust="spacingAndGlyphs">APVD</text>
</g>
<text x="721" y="894" font-size="6.5" font-weight="bold" textLength="40" lengthAdjust="spacingAndGlyphs">GENERAL NOTE:</text>
<g font-size="4.8" font-style="italic">
<text x="719" y="901" textLength="79" lengthAdjust="spacingAndGlyphs">* ALL DIMENSIONS IN MILIMETERS.</text>
<text x="719" y="906" textLength="107" lengthAdjust="spacingAndGlyphs">* BREAK ALL SHARP EDGES R0.06 OR C0.06 MAX.</text>
<text x="719" y="911" textLength="69" lengthAdjust="spacingAndGlyphs">* UNLESS OTHERWISE SPECIFIED,</text>
<text x="722" y="916" textLength="111" lengthAdjust="spacingAndGlyphs">ALL DIMENSIONS AND  GEOMETRIC TOLERANGES</text>
<text x="722" y="921" textLength="104" lengthAdjust="spacingAndGlyphs">APPLY PER ISO 2768-1-M AND ISO 2768-2-K.</text>
</g>
<text x="843.7" y="813" font-size="6" textLength="42" lengthAdjust="spacingAndGlyphs">CUSTOMER NAME</text>
<text x="1054" y="813" font-size="6" textLength="55" lengthAdjust="spacingAndGlyphs">DRAWING REFERENCE</text>
<text x="1167" y="812" font-size="6" textLength="21" lengthAdjust="spacingAndGlyphs">EDITION</text>
<text x="842" y="868" font-size="6" textLength="40" lengthAdjust="spacingAndGlyphs">DRAWING NAME</text>
<text x="1056" y="871" font-size="6" textLength="35" lengthAdjust="spacingAndGlyphs">DRAWING NO.</text>
<text x="1167" y="868" font-size="6" textLength="24" lengthAdjust="spacingAndGlyphs">REVISION</text>
<text x="1171" y="905" font-size="6" textLength="15" lengthAdjust="spacingAndGlyphs">SHEET</text>
<text x="1083.7" y="920" font-size="6.5" textLength="44" lengthAdjust="spacingAndGlyphs">SHEET 1 OF 1</text>
<text x="1197" y="854" font-size="7" font-weight="bold" textLength="120.7" lengthAdjust="spacingAndGlyphs">ENGINEERING &amp; TURNKEY SOLUTIONS</text>
</g>

<g fill="#111">
<text x="317" y="845" font-size="8" text-anchor="middle">1</text>
<text x="335.7" y="844" font-size="11" textLength="92" lengthAdjust="spacingAndGlyphs">ISSUED FOR REVIEW</text>
<text x="445" y="843" font-size="5.5" textLength="25" lengthAdjust="spacingAndGlyphs">29-09-2025</text>
<text x="198" y="841" font-size="6" textLength="22" lengthAdjust="spacingAndGlyphs">29-09-25</text>
<text x="218" y="892" font-size="6.5" textLength="35" lengthAdjust="spacingAndGlyphs">SEVOLEONA</text>
<text x="522" y="856" font-size="12" textLength="33" lengthAdjust="spacingAndGlyphs">1  :  16</text>
<text x="515.7" y="885" font-size="10" textLength="20.3" lengthAdjust="spacingAndGlyphs">SIGIT</text>
<text x="609" y="885" font-size="6" textLength="32" lengthAdjust="spacingAndGlyphs">29/09/2025</text>
<text x="516" y="913" font-size="9.5" textLength="37" lengthAdjust="spacingAndGlyphs">Sevoleona</text>
<text x="886" y="824.5" font-size="13.5" textLength="110" lengthAdjust="spacingAndGlyphs">Mr/Mrs. VYTAUTAS</text>
<text x="914.7" y="855" font-size="11.5" font-style="italic" textLength="53" lengthAdjust="spacingAndGlyphs">LITHUANIA</text>
<text x="851" y="899.5" font-size="17" textLength="180" lengthAdjust="spacingAndGlyphs">ASYY-SOIL-CONDITIONER</text>
<text x="1051" y="894.5" font-size="11.5" textLength="110" lengthAdjust="spacingAndGlyphs">ESP-C001-CCRD.VT-A001</text>
<text x="1172" y="921" font-size="12.5" textLength="16" lengthAdjust="spacingAndGlyphs">A3</text>
<g font-size="4.8" fill="#222">
<text x="1202.7" y="865" textLength="109.3" lengthAdjust="spacingAndGlyphs">Transforming Concepts into Industrial Results</text>
<text x="1227" y="870.5" textLength="61.7" lengthAdjust="spacingAndGlyphs">MEP | Machinery | Process</text>
<text x="1203.7" y="878" textLength="110" lengthAdjust="spacingAndGlyphs">Presisi CAD. Eksekusi Andal. Solusi Terpadu.</text>
<text x="1220" y="897" textLength="77" lengthAdjust="spacingAndGlyphs">Contact : sevoleona1@gmail.com</text>
<text x="1243.7" y="903" textLength="28.3" lengthAdjust="spacingAndGlyphs">+62 812 1996 3500</text>
<text x="1213" y="917" textLength="90.7" lengthAdjust="spacingAndGlyphs">© ESP Engineering - All rights reserved</text>
</g>
<text x="1213.7" y="839" font-size="5" font-style="italic" fill="#444" textLength="85" lengthAdjust="spacingAndGlyphs">Era Sakti Berkasa Engineering</text>
</g>
<!-- logo -->
<g fill="none" stroke-width="2.6" stroke-linecap="round">
<path d="M1236,826.5 H1210 M1236,826.5 Q1236,822 1231,822 H1213 Q1208.5,822 1208.5,826.5 Q1208.5,831 1213,831 H1234" stroke="#3c3c3c"/>
<path d="M1241,831 V826 Q1241,822 1246,822 H1261" stroke="#3c3c3c"/>
<path d="M1265,833 V826 Q1265,822 1269,822 H1280 Q1284,822 1284,825 Q1284,828 1280,828 H1266" stroke="#3354e0"/>
<path d="M1305,826.5 H1288 M1305,826.5 Q1305,822 1300,822 H1291 Q1287,822 1287,826.5 Q1287,831 1291,831 H1304" stroke="#3354e0"/>
</g>
</svg>
</body></html>
